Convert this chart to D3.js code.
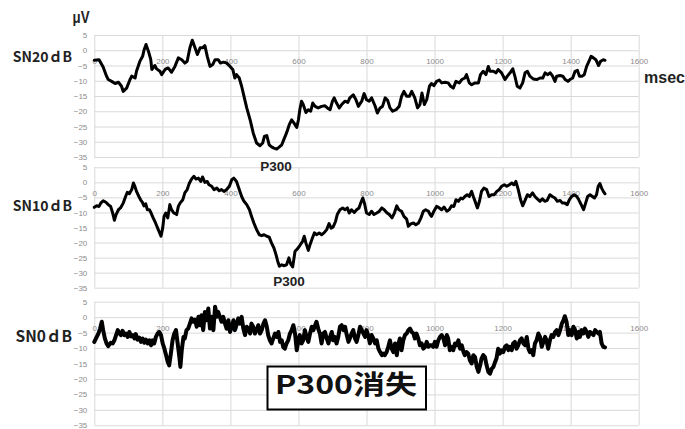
<!DOCTYPE html>
<html>
<head>
<meta charset="utf-8">
<script src="https://cdn.jsdelivr.net/npm/d3@7"></script>
<style>
  html, body { margin: 0; padding: 0; background: #fff; }
  svg { display: block; }
</style>
</head>
<body>
<svg id="chart" width="685" height="429"></svg>
<script>
// Averaged evoked potentials (µV) over 0–1500 msec at three S/N ratios.
const xTicks = [0, 200, 400, 600, 800, 1000, 1200, 1400, 1600];
const yTicks = [5, 0, -5, -10, -15, -20, -25, -30, -35];

const sn20Time = [0,14,26,36,41,51,61,71,80,85,95,105,110,120,124,134,142,146,152,159,166,169,178,183,193,198,208,217,227,237,247,257,266,273,281,288,296,303,311,318,325,332,340,348,355,364,371,379,389,399,407,413,418,426,433,440,448,458,467,477,487,495,500,507,514,521,528,536,544,551,557,565,573,580,587,595,600,604,609,614,622,629,636,642,649,658,668,678,685,693,700,705,712,720,727,737,745,751,761,769,776,786,793,800,808,815,825,832,840,847,855,862,869,877,887,896,903,910,918,926,933,942,950,957,963,970,977,985,991,998,1006,1014,1021,1031,1040,1047,1055,1063,1073,1080,1089,1094,1102,1109,1119,1129,1135,1143,1151,1158,1163,1173,1181,1187,1197,1207,1214,1222,1230,1236,1243,1251,1259,1266,1273,1280,1290,1300,1310,1318,1325,1332,1340,1347,1354,1359,1369,1377,1384,1392,1398,1406,1413,1420,1426,1433,1440,1447,1454,1460,1467,1474,1482,1488,1496,1501];
const sn20Uv = [-3.3,-3.1,-5.5,-8.5,-9.6,-10.2,-10.9,-10.5,-11.8,-13.5,-12.4,-9.6,-8.5,-9.1,-6.9,-3.6,-2.0,0,1.9,-0.3,-3.1,-6.3,-5.0,-6.1,-6.9,-8.0,-6.3,-5.8,-7.2,-5.3,-2.5,-3.1,-4.2,-3.6,0.8,3.3,0.8,-1.4,0.8,0.8,1.5,-2.0,-5.3,-4.7,-3.1,-3.1,-4.2,-3.9,-4.2,-5.3,-6.3,-9.1,-8.0,-9.1,-11.8,-15.1,-18.9,-22.8,-27.1,-30.4,-31.3,-30.4,-28.2,-28.0,-31.0,-31.7,-32.1,-32.4,-31.7,-31.0,-29.3,-27.1,-24.4,-22.8,-23.9,-25.3,-22.8,-19.5,-16.7,-17.8,-20.4,-19.5,-20.0,-17.3,-18.4,-18.9,-18.4,-18.2,-18.9,-19.5,-16.7,-15.6,-17.3,-18.9,-17.8,-16.7,-17.1,-15.6,-14.6,-16.2,-18.4,-16.7,-14.2,-16.2,-16.7,-15.6,-18.2,-20.6,-18.9,-18.4,-15.6,-16.4,-18.9,-20.0,-19.5,-18.4,-15.1,-13.5,-15.1,-15.1,-13.5,-15.6,-18.9,-17.8,-14.0,-17.8,-16.2,-11.8,-10.9,-11.6,-10.2,-9.8,-10.7,-10.5,-10.7,-11.8,-12.4,-10.2,-10.7,-9.6,-9.1,-8.0,-10.7,-11.3,-10.7,-10.7,-8.0,-6.9,-8.0,-5.3,-6.9,-6.9,-7.4,-6.3,-7.4,-9.6,-8.5,-7.4,-6.1,-8.5,-11.8,-12.4,-10.7,-7.4,-6.9,-8.5,-9.4,-9.6,-9.1,-9.1,-7.4,-8.0,-7.4,-8.5,-10.2,-8.5,-8.3,-8.5,-9.6,-10.2,-9.6,-9.1,-6.9,-6.6,-8.5,-8.5,-8.0,-5.3,-3.6,-2.0,-2.5,-3.1,-5.0,-3.6,-3.1,-3.3];

const sn10Time = [0,7,14,19,26,34,41,48,54,59,64,71,77,85,92,97,103,110,115,120,124,131,136,141,146,151,156,162,167,173,180,188,196,201,205,210,216,222,227,234,242,247,252,260,266,273,279,286,293,299,306,313,318,325,332,337,345,352,360,367,374,381,389,397,404,410,418,426,433,440,448,456,462,469,477,485,492,499,507,514,521,528,534,539,544,551,557,565,572,577,583,590,597,604,612,617,622,629,634,641,647,653,661,668,675,683,690,696,702,709,714,722,730,737,744,749,756,764,771,778,783,789,794,800,808,815,822,830,838,845,852,859,867,875,882,889,895,903,910,918,923,930,938,945,953,960,967,974,982,987,991,998,1006,1014,1021,1028,1036,1043,1050,1057,1063,1070,1077,1083,1089,1096,1102,1109,1114,1121,1126,1132,1138,1145,1153,1160,1168,1175,1183,1190,1197,1205,1212,1220,1227,1233,1239,1246,1253,1259,1266,1273,1280,1288,1295,1302,1310,1317,1324,1331,1339,1346,1354,1361,1369,1376,1383,1390,1396,1403,1410,1418,1424,1431,1438,1444,1450,1457,1464,1470,1476,1481,1486,1491,1496,1501];
const sn10Uv = [-8.3,-7.8,-8.0,-6.9,-6.1,-6.6,-7.4,-8.0,-10.2,-12.6,-10.7,-9.1,-8.5,-6.9,-4.7,-3.3,-3.8,-2.4,-0.2,-1.6,-3.0,-4.7,-5.8,-6.6,-7.8,-7.1,-9.1,-9.1,-10.2,-11.8,-13.5,-15.7,-17.9,-15.2,-11.3,-10.2,-11.8,-7.4,-9.1,-10.2,-10.7,-8.0,-6.9,-5.8,-3.5,-2.4,-0.4,1.1,2.0,1.1,1.4,0.3,1.8,0,0.3,-0.8,-1.3,-2.4,-1.9,-2.8,-2.4,-3.0,-2.4,-1.3,0.9,1.4,0.3,-2.4,-4.7,-6.3,-7.4,-9.1,-11.3,-13.5,-15.7,-17.4,-17.7,-17.4,-17.9,-18.2,-20.2,-21.8,-24.0,-26.2,-27.9,-27.4,-27.7,-27.4,-25.1,-27.1,-28.1,-22.9,-22.1,-21.0,-19.6,-17.9,-20.2,-22.6,-20.7,-18.5,-16.8,-17.4,-16.8,-17.4,-16.8,-15.7,-13.7,-15.2,-14.8,-13.0,-10.7,-9.1,-8.5,-9.1,-8.5,-10.2,-9.1,-10.0,-9.1,-8.5,-6.9,-5.2,-6.9,-10.2,-10.7,-9.6,-10.7,-10.2,-9.6,-8.5,-9.1,-10.0,-10.7,-11.8,-10.2,-7.8,-9.1,-9.6,-11.3,-12.2,-14.6,-13.8,-13.5,-14.1,-13.5,-11.8,-9.6,-9.1,-9.6,-10.7,-11.3,-9.6,-8.0,-8.5,-9.1,-8.2,-9.6,-9.1,-7.8,-8.0,-5.8,-6.3,-5.2,-5.5,-4.7,-4.1,-4.7,-3.0,-4.7,-6.9,-8.5,-6.3,-3.0,-1.9,-2.4,-4.7,-4.1,-4.1,-3.0,-2.4,-1.3,-0.8,-1.3,-0.8,-0.2,-0.8,0.3,-2.4,-5.8,-7.8,-6.0,-4.1,-4.7,-3.5,-4.7,-5.5,-6.3,-5.5,-6.3,-6.0,-4.1,-4.7,-5.2,-6.3,-6.0,-6.9,-6.9,-7.4,-5.8,-4.7,-4.1,-4.7,-5.8,-7.4,-9.1,-6.9,-4.7,-4.1,-4.7,-5.2,-4.1,-1.3,-0.4,-1.9,-3.0,-3.8];

const sn0Time = [0,5,12,17,22,26,31,36,41,48,54,59,64,69,73,78,83,88,93,98,103,108,113,118,122,127,132,137,142,147,152,157,162,167,171,176,181,186,191,196,201,206,211,216,220,225,230,235,240,245,250,253,257,262,266,271,276,281,286,291,296,301,306,311,315,320,325,330,335,340,345,350,355,360,364,369,374,379,384,389,394,399,404,409,413,418,423,428,433,438,443,448,453,458,462,467,472,477,482,487,492,497,502,507,511,516,521,526,531,536,541,546,551,555,560,565,570,575,580,585,590,595,600,604,609,614,619,624,629,634,639,644,649,653,658,663,668,673,678,683,688,693,698,702,707,712,717,722,727,732,737,742,747,751,756,761,766,771,776,781,786,791,796,800,805,810,815,820,825,830,835,840,845,849,854,859,864,869,874,879,884,889,893,898,903,908,913,918,923,928,933,938,942,947,952,957,962,967,972,977,982,987,991,996,1001,1006,1011,1016,1021,1026,1031,1036,1040,1045,1050,1055,1060,1065,1070,1075,1080,1085,1089,1094,1099,1104,1109,1114,1119,1124,1129,1134,1138,1143,1148,1153,1158,1163,1168,1173,1178,1182,1187,1192,1197,1202,1207,1212,1217,1222,1227,1231,1236,1241,1246,1251,1256,1261,1266,1271,1276,1280,1285,1290,1295,1300,1305,1310,1315,1320,1325,1329,1334,1339,1344,1349,1354,1359,1364,1369,1374,1379,1383,1388,1393,1398,1403,1408,1413,1418,1423,1427,1432,1437,1442,1447,1452,1457,1462,1467,1472,1477,1482,1486,1491,1496,1501];
const sn0Uv = [-8.0,-6.9,-5.3,-3.7,-1.5,-4.2,-6.9,-8.5,-9.4,-8.3,-8.5,-7.5,-5.8,-4.2,-5.1,-5.8,-4.4,-5.8,-5.3,-6.4,-4.8,-6.2,-5.8,-6.9,-5.5,-7.3,-6.6,-8.0,-6.9,-8.3,-7.3,-8.5,-7.5,-9.1,-7.5,-8.5,-6.4,-5.3,-4.8,-5.8,-8.5,-10.2,-12.3,-14.5,-15.6,-11.8,-7.5,-5.3,-4.2,-8.5,-12.9,-16.1,-10.7,-6.4,-6.9,-4.2,-3.7,-2.1,-0.4,-1.5,-0.8,-3.1,0.1,-2.6,0.6,-4.2,1.7,-1.0,2.8,-3.7,0.1,-4.2,3.4,0.1,1.7,0.1,-1.5,0.1,-2.1,-3.7,-1.0,-4.8,-3.1,-1.0,-4.2,-2.6,-0.4,-2.1,0.1,-3.7,-5.8,-3.1,-3.7,-5.3,-2.1,-3.1,-5.3,-4.2,-2.6,-5.3,-4.2,-2.1,-1.0,-3.1,-5.8,-7.5,-8.5,-6.9,-5.3,-6.4,-4.8,-8.0,-7.5,-9.6,-10.2,-8.5,-7.5,-5.3,-4.2,-2.6,-5.3,-10.7,-7.5,-5.8,-8.5,-7.5,-4.2,-6.4,-8.0,-5.3,-3.1,-4.2,-2.6,-1.5,-3.7,-5.3,-8.5,-5.3,-4.8,-6.9,-8.5,-6.4,-4.8,-7.5,-6.4,-8.5,-6.4,-3.1,-2.6,-4.2,-3.1,-5.8,-8.0,-6.9,-5.3,-4.2,-6.9,-8.0,-5.8,-3.1,-4.2,-5.3,-6.4,-4.2,-5.8,-8.5,-5.8,-6.9,-8.5,-7.5,-10.2,-11.3,-12.3,-11.8,-12.3,-11.3,-9.6,-7.5,-10.2,-11.3,-8.5,-12.3,-9.1,-6.9,-10.7,-7.5,-5.8,-5.3,-4.2,-3.7,-4.8,-5.3,-6.9,-5.3,-6.9,-9.1,-8.5,-10.2,-9.6,-8.0,-9.6,-9.1,-9.1,-9.6,-8.0,-9.6,-7.5,-6.4,-5.8,-6.9,-9.1,-5.8,-6.9,-10.7,-9.6,-10.7,-8.5,-9.1,-7.5,-10.2,-9.1,-11.3,-12.3,-11.3,-11.8,-14.0,-15.0,-12.3,-12.9,-16.1,-17.7,-15.6,-13.4,-12.3,-12.9,-15.6,-17.7,-18.3,-16.7,-16.1,-14.5,-13.4,-10.2,-11.8,-10.7,-11.3,-9.6,-9.1,-10.7,-9.6,-10.7,-8.5,-8.0,-10.2,-9.1,-7.5,-6.9,-8.5,-9.1,-6.4,-10.2,-11.3,-10.7,-12.3,-8.5,-7.5,-5.3,-6.4,-9.6,-8.0,-6.4,-7.5,-10.2,-7.5,-5.8,-6.4,-4.8,-4.2,-5.8,-4.2,-2.1,-1.0,0.3,-1.5,-5.8,-4.2,-5.8,-3.1,-4.2,-6.9,-4.8,-6.4,-4.2,-5.3,-3.7,-4.8,-6.4,-4.8,-5.3,-5.8,-4.2,-4.8,-5.3,-4.8,-8.5,-9.6,-9.8];

const rowLabels = ["SN20ｄB", "SN10ｄB", "SN0ｄB"];
const peakLabel = "P300";
const lostLabel = "P300消失";

const svg = d3.select("#chart");
const xLeft = 94.3, xRight = 638.7;
const x = d3.scaleLinear().domain([0, 1600]).range([xLeft, xRight]);

const panels = [
  { t: sn20Time, v: sn20Uv, top: 35,    bottom: 157,   stroke: 3,   labelSize: 14,   labelY: 61.5 },
  { t: sn10Time, v: sn10Uv, top: 167.3, bottom: 287.7, stroke: 3,   labelSize: 14,   labelY: 210.5 },
  { t: sn0Time,  v: sn0Uv,  top: 301.7, bottom: 425.3, stroke: 4,   labelSize: 15.5, labelY: 342 }
];

const tickFont = "'Liberation Sans', Arial, sans-serif";
const gridColor = "#d9d9d9";
const tickColor = "#8c8c8c";
const fmt = d3.format("d");

panels.forEach((p, i) => {
  const y = d3.scaleLinear().domain([-35, 5]).range([p.bottom, p.top]);
  const g = svg.append("g");

  // horizontal gridlines
  g.append("g")
    .attr("transform", `translate(${xLeft},0)`)
    .call(d3.axisLeft(y).tickValues(yTicks).tickSize(-(xRight - xLeft)).tickFormat(""))
    .call(s => s.select(".domain").remove())
    .call(s => s.selectAll("line").attr("stroke", gridColor).attr("stroke-width", 1));

  // vertical gridlines
  g.append("g")
    .attr("transform", `translate(0,${p.bottom})`)
    .call(d3.axisBottom(x).tickValues(xTicks).tickSize(-(p.bottom - p.top)).tickFormat(""))
    .call(s => s.select(".domain").remove())
    .call(s => s.selectAll("line").attr("stroke", gridColor).attr("stroke-width", 1));

  // y tick labels
  g.append("g")
    .attr("transform", `translate(${xLeft},0)`)
    .call(d3.axisLeft(y).tickValues(yTicks).tickSize(0).tickPadding(7).tickFormat(fmt))
    .call(s => s.select(".domain").remove())
    .call(s => s.selectAll("text").attr("fill", tickColor).attr("font-size", 8).attr("font-family", tickFont));

  // x tick labels sit just under the zero line
  g.append("g")
    .attr("transform", `translate(0,${y(0)})`)
    .call(d3.axisBottom(x).tickValues(xTicks).tickSize(0).tickPadding(8).tickFormat(fmt))
    .call(s => s.select(".domain").remove())
    .call(s => s.selectAll("text").attr("fill", tickColor).attr("font-size", 8).attr("font-family", tickFont));

  // waveform
  const pts = p.t.map((t, k) => [t, p.v[k]]);
  g.append("path")
    .datum(pts)
    .attr("fill", "none")
    .attr("stroke", "#000")
    .attr("stroke-width", p.stroke)
    .attr("stroke-linejoin", "round")
    .attr("stroke-linecap", "round")
    .attr("d", d3.line().x(d => x(d[0])).y(d => y(d[1])));

  // row label
  svg.append("text")
    .attr("x", 72).attr("y", p.labelY)
    .attr("text-anchor", "end")
    .attr("font-family", "'Noto Sans CJK JP', sans-serif")
    .attr("font-weight", "bold")
    .attr("font-size", p.labelSize)
    .attr("fill", "#222")
    .text(rowLabels[i]);
});

// unit labels
svg.append("text")
  .attr("x", 81).attr("y", 22.5)
  .attr("text-anchor", "middle")
  .attr("font-family", "'Liberation Sans', Arial, sans-serif")
  .attr("font-weight", "bold")
  .attr("font-size", 17)
  .attr("fill", "#222")
  .attr("textLength", 17).attr("lengthAdjust", "spacingAndGlyphs")
  .text("μV");

svg.append("text")
  .attr("x", 644).attr("y", 83)
  .attr("font-family", "'Liberation Sans', Arial, sans-serif")
  .attr("font-weight", "bold")
  .attr("font-size", 16)
  .attr("fill", "#222")
  .text("msec");

// P300 annotations under the troughs
svg.append("text")
  .attr("x", x(534)).attr("y", 170.5)
  .attr("text-anchor", "middle")
  .attr("font-family", "'Liberation Sans', Arial, sans-serif")
  .attr("font-weight", "bold").attr("font-size", 13.5).attr("fill", "#222")
  .text(peakLabel);

svg.append("text")
  .attr("x", x(572)).attr("y", 285.5)
  .attr("text-anchor", "middle")
  .attr("font-family", "'Liberation Sans', Arial, sans-serif")
  .attr("font-weight", "bold").attr("font-size", 13.5).attr("fill", "#222")
  .text(peakLabel);

// boxed note in the bottom panel
svg.append("rect")
  .attr("x", 267.5).attr("y", 366.5)
  .attr("width", 158.5).attr("height", 43)
  .attr("fill", "#fff")
  .attr("stroke", "#000").attr("stroke-width", 2);

svg.append("text")
  .attr("x", 346).attr("y", 394)
  .attr("text-anchor", "middle")
  .attr("font-family", "'Noto Sans CJK JP', sans-serif")
  .attr("font-weight", "bold")
  .attr("font-size", 26)
  .attr("fill", "#111")
  .attr("textLength", 142).attr("lengthAdjust", "spacingAndGlyphs")
  .text(lostLabel);
</script>
</body>
</html>
